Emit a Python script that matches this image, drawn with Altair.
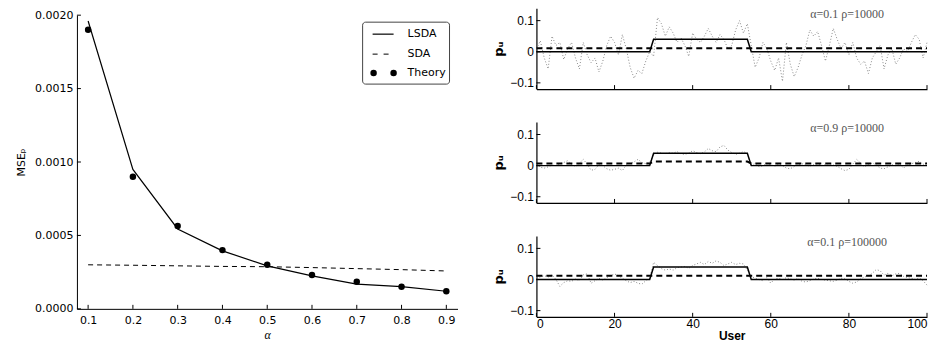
import altair as alt
import pandas as pd

# ---------------- left panel data ----------------
alpha = [0.1, 0.2, 0.3, 0.4, 0.5, 0.6, 0.7, 0.8, 0.9]
lsda_mse = [0.00196, 0.00095, 0.000544, 0.000395, 0.000293, 0.000225, 0.000168, 0.000152, 0.00012]
sda_mse = [0.000300, 0.000297, 0.000293, 0.000289, 0.000287, 0.000281, 0.000274, 0.000267, 0.000258]
theory_mse = [0.0019, 0.0009, 0.000565, 0.0004, 0.0003, 0.00023, 0.000184, 0.00015, 0.00012]
left_y_ticks = [0.0, 0.0005, 0.0010, 0.0015, 0.0020]
legend_labels = ["LSDA", "SDA", "Theory"]

# ---------------- right panels data ----------------
users = list(range(101))
est_a01_r1e4 = [
    0.01, 0.035, -0.02, -0.055, 0.05, 0.02, 0.03, -0.025, 0.01, 0.03,
    -0.02, -0.055, 0.03, -0.01, -0.035, -0.02, -0.065, -0.03, 0.02, 0.05,
    0.03, -0.01, 0.055, 0.01, -0.05, -0.085, -0.06, -0.07, -0.03, 0.0,
    -0.015, 0.11, 0.09, 0.05, 0.08, 0.06, 0.03, 0.045, 0.02, -0.015,
    0.06, 0.04, 0.03, 0.05, 0.075, 0.05, 0.03, 0.055, 0.04, 0.01,
    0.02, 0.07, 0.10, 0.06, 0.09, 0.02, -0.05, -0.02, 0.03, 0.01,
    -0.03, -0.06, -0.02, -0.095, 0.03, -0.04, -0.08, -0.05, -0.01, 0.02,
    0.07, 0.05, 0.065, 0.02, -0.03, 0.02, 0.075, 0.04, 0.01, 0.03,
    -0.01, 0.03, -0.02, -0.04, -0.03, -0.07, -0.02, 0.0, 0.02, -0.055,
    -0.01, 0.01, -0.04, -0.02, 0.01, 0.0, 0.03, 0.055, 0.04, -0.02,
    0.03,
]
est_a09_r1e4 = [
    0.005, -0.005, -0.008, -0.004, 0.002, 0.0, 0.006, 0.01, 0.016, 0.004,
    -0.003, 0.008, 0.02, 0.005, -0.015, -0.012, 0.003, 0.0, -0.01, -0.015,
    -0.012, -0.008, -0.016, 0.002, 0.008, 0.012, 0.02, 0.01, 0.006, 0.012,
    0.035, 0.043, 0.04, 0.038, 0.042, 0.04, 0.045, 0.038, 0.036, 0.04,
    0.048, 0.042, 0.038, 0.044, 0.055, 0.048, 0.045, 0.06, 0.065, 0.05,
    0.042, 0.036, 0.04, 0.045, 0.04, 0.002, 0.006, -0.004, 0.0, 0.008,
    0.003, -0.002, 0.005, 0.0, -0.008, -0.01, -0.003, 0.004, 0.006, 0.002,
    -0.002, 0.004, 0.006, 0.0, 0.004, 0.007, 0.002, -0.002, -0.01, -0.016,
    -0.012, 0.005, 0.02, 0.008, -0.004, 0.004, 0.008, 0.002, -0.008, -0.01,
    -0.004, 0.003, 0.0, 0.006, -0.008, 0.002, 0.006, 0.01, 0.014, 0.004,
    0.008,
]
est_a01_r1e5 = [
    0.006, 0.008, 0.012, 0.008, 0.015, 0.0, -0.022, -0.01, -0.004, -0.006,
    0.002, -0.004, 0.015, 0.018, -0.012, -0.004, 0.004, -0.002, 0.006, 0.012,
    0.018, 0.012, 0.004, -0.004, -0.01, -0.006, -0.012, -0.015, -0.004, 0.004,
    0.055, 0.045, 0.035, 0.03, 0.034, 0.03, 0.038, 0.04, 0.042, 0.036,
    0.045, 0.05, 0.055, 0.048, 0.058, 0.052, 0.06, 0.055, 0.045, 0.05,
    0.055, 0.048, 0.052, 0.05, 0.03, 0.01, 0.004, 0.0, -0.004, 0.006,
    -0.012, 0.002, 0.004, 0.0, 0.006, 0.002, -0.002, 0.004, -0.006, -0.008,
    -0.004, 0.002, 0.004, 0.0, -0.002, -0.004, -0.006, -0.002, 0.004, 0.002,
    -0.006, -0.012, -0.008, 0.002, 0.008, 0.012, 0.02, 0.032, 0.028, 0.014,
    0.02, 0.012, 0.018, 0.02, 0.01, 0.006, 0.004, 0.0, 0.006, -0.004,
    -0.018,
]
step_users = [0, 29, 30, 54, 55, 100]
true_pu = [0.0, 0.0, 0.04, 0.04, 0.0, 0.0]
sda_a01_r1e4 = [0.011, 0.011, 0.011, 0.011, 0.011, 0.011]
sda_a09_r1e4 = [0.007, 0.007, 0.013, 0.013, 0.007, 0.007]
sda_a01_r1e5 = [0.012, 0.012, 0.012, 0.012, 0.012, 0.012]
panel_labels = ["\u03b1=0.1 \u03c1=10000", "\u03b1=0.9 \u03c1=10000", "\u03b1=0.1 \u03c1=100000"]
right_x_ticks = [0, 20, 40, 60, 80, 100]
right_y_ticks = [-0.1, 0.0, 0.1]

# ---------------- left chart ----------------
LW, LH = 381, 294
df_left = pd.DataFrame({"alpha": alpha, "lsda": lsda_mse, "sda": sda_mse, "theory": theory_mse})
lx = alt.Scale(domain=[0.075, 0.925], nice=False, zero=False)
ly = alt.Scale(domain=[0.0, 0.002], nice=False)
lxax = alt.Axis(values=alpha, format=".1f", title="\u03b1", ticks=False, grid=False,
                labelFont="DejaVu Sans", labelFontSize=11, labelColor="black", labelPadding=6,
                titleFont="Liberation Serif", titleFontStyle="italic", titleFontWeight="normal",
                titleFontSize=12, titleColor="black", titlePadding=4,
                domainColor="black", domainWidth=1)
lyax = alt.Axis(values=left_y_ticks, format=".4f", title="MSE\u209a", ticks=False, grid=False,
                labelFont="DejaVu Sans", labelFontSize=11, labelColor="black", labelPadding=4,
                titleFont="DejaVu Sans", titleFontWeight="normal", titleFontSize=11,
                titleColor="black", titlePadding=8, domainColor="black", domainWidth=1)

base = alt.Chart(df_left).encode(x=alt.X("alpha:Q", scale=lx, axis=lxax))
l_lsda = base.mark_line(color="black", strokeWidth=1.2).encode(
    y=alt.Y("lsda:Q", scale=ly, axis=lyax))
l_sda = base.mark_line(color="black", strokeWidth=1, strokeDash=[5, 4]).encode(
    y=alt.Y("sda:Q", scale=ly, axis=lyax))
l_th = base.mark_circle(color="black", size=42, opacity=1).encode(
    y=alt.Y("theory:Q", scale=ly, axis=lyax))

# inward ticks for left axes
l_yt = alt.Chart(pd.DataFrame({"t": left_y_ticks})).mark_rule(color="black").encode(
    y=alt.Y("t:Q", scale=ly, axis=lyax), x=alt.value(0), x2=alt.value(4))
l_xt = alt.Chart(pd.DataFrame({"t": alpha})).mark_rule(color="black").encode(
    x=alt.X("t:Q", scale=lx, axis=lxax), y=alt.value(LH), y2=alt.value(LH - 4))

dummy = pd.DataFrame({"k": [0]})
leg_box = alt.Chart(dummy).mark_rect(fill="white", stroke="#444444", strokeWidth=1,
                                     cornerRadius=3).encode(
    x=alt.value(286), x2=alt.value(373), y=alt.value(7), y2=alt.value(69))
leg_l1 = alt.Chart(dummy).mark_rule(color="black", strokeWidth=1.2).encode(
    x=alt.value(296), x2=alt.value(317), y=alt.value(19))
leg_l2 = alt.Chart(dummy).mark_rule(color="black", strokeWidth=1, strokeDash=[5, 6]).encode(
    x=alt.value(296), x2=alt.value(317), y=alt.value(39))
leg_p1 = alt.Chart(dummy).mark_circle(color="black", size=42, opacity=1).encode(
    x=alt.value(297), y=alt.value(58))
leg_p2 = alt.Chart(dummy).mark_circle(color="black", size=42, opacity=1).encode(
    x=alt.value(317), y=alt.value(58))
leg_texts = [
    alt.Chart(dummy).mark_text(align="left", baseline="middle", font="DejaVu Sans",
                               fontSize=11, color="black").encode(
        x=alt.value(331), y=alt.value(yy), text=alt.value(lab))
    for lab, yy in zip(legend_labels, [19, 39, 58])
]

left_plot = alt.layer(l_lsda, l_sda, l_th, l_yt, l_xt, leg_box, leg_l1, leg_l2, leg_p1, leg_p2,
                      *leg_texts).properties(width=LW, height=LH)

# invisible spacer that lowers the left panel relative to the right column
spacer = alt.Chart(dummy).mark_rule(strokeWidth=0, opacity=0).encode(
    x=alt.value(0), x2=alt.value(1), y=alt.value(1)).properties(width=LW, height=1)
left = alt.vconcat(spacer, left_plot, spacing=0)

# ---------------- right panels ----------------
RW, RH = 391, 81
rx = alt.Scale(domain=[0, 100], nice=False)
ry = alt.Scale(domain=[-0.12, 0.14], nice=False)


def panel(est, sda_vals, label, last):
    xax = alt.Axis(values=right_x_ticks, ticks=False, grid=False, labels=last,
                   title="User" if last else None,
                   labelFont="Liberation Sans", labelFontSize=12, labelColor="black",
                   labelPadding=2, titleFont="Liberation Sans", titleFontWeight="bold",
                   titleFontSize=12, titleColor="black", titlePadding=1,
                   domainColor="black", domainWidth=1.2)
    yax = alt.Axis(values=right_y_ticks, format=".1~f", ticks=False, grid=False,
                   title="p\u1d64",
                   labelFont="Liberation Sans", labelFontSize=12, labelColor="black",
                   labelPadding=3, titleFont="DejaVu Sans", titleFontWeight="bold",
                   titleFontSize=13, titleColor="black", titlePadding=4,
                   domainColor="black", domainWidth=1.2)
    d_est = pd.DataFrame({"user": users, "pu": est})
    d_true = pd.DataFrame({"user": step_users, "pu": true_pu})
    d_sda = pd.DataFrame({"user": step_users, "pu": sda_vals})
    X = alt.X("user:Q", scale=rx, axis=xax)
    Y = alt.Y("pu:Q", scale=ry, axis=yax)
    est_l = alt.Chart(d_est).mark_line(color="#8a8a8a", strokeWidth=1,
                                       strokeDash=[1, 2]).encode(x=X, y=Y)
    true_l = alt.Chart(d_true).mark_line(color="black", strokeWidth=1.5).encode(x=X, y=Y)
    sda_l = alt.Chart(d_sda).mark_line(color="black", strokeWidth=2,
                                       strokeDash=[6, 4]).encode(x=X, y=Y)
    yt = alt.Chart(pd.DataFrame({"t": right_y_ticks})).mark_rule(color="black").encode(
        y=alt.Y("t:Q", scale=ry, axis=yax), x=alt.value(0), x2=alt.value(4))
    xt = alt.Chart(pd.DataFrame({"t": right_x_ticks})).mark_rule(color="black").encode(
        x=alt.X("t:Q", scale=rx, axis=xax), y=alt.value(RH), y2=alt.value(RH - 4))
    txt = alt.Chart(pd.DataFrame({"lab": [label]})).mark_text(
        align="center", baseline="middle", font="Liberation Serif", fontSize=12,
        color="#555555").encode(x=alt.value(311), y=alt.value(6), text="lab:N")
    return alt.layer(est_l, true_l, sda_l, yt, xt, txt).properties(width=RW, height=RH)


right = alt.vconcat(
    panel(est_a01_r1e4, sda_a01_r1e4, panel_labels[0], False),
    panel(est_a09_r1e4, sda_a09_r1e4, panel_labels[1], False),
    panel(est_a01_r1e5, sda_a01_r1e5, panel_labels[2], True),
    spacing=32,
)

chart = alt.hconcat(left, right, spacing=35).properties(
    padding={"left": 7, "top": 0, "right": 0, "bottom": 0}
).configure_view(strokeWidth=0).configure_axis(grid=False)

chart.save("out.html", embed_options={"renderer": "svg", "actions": False})
